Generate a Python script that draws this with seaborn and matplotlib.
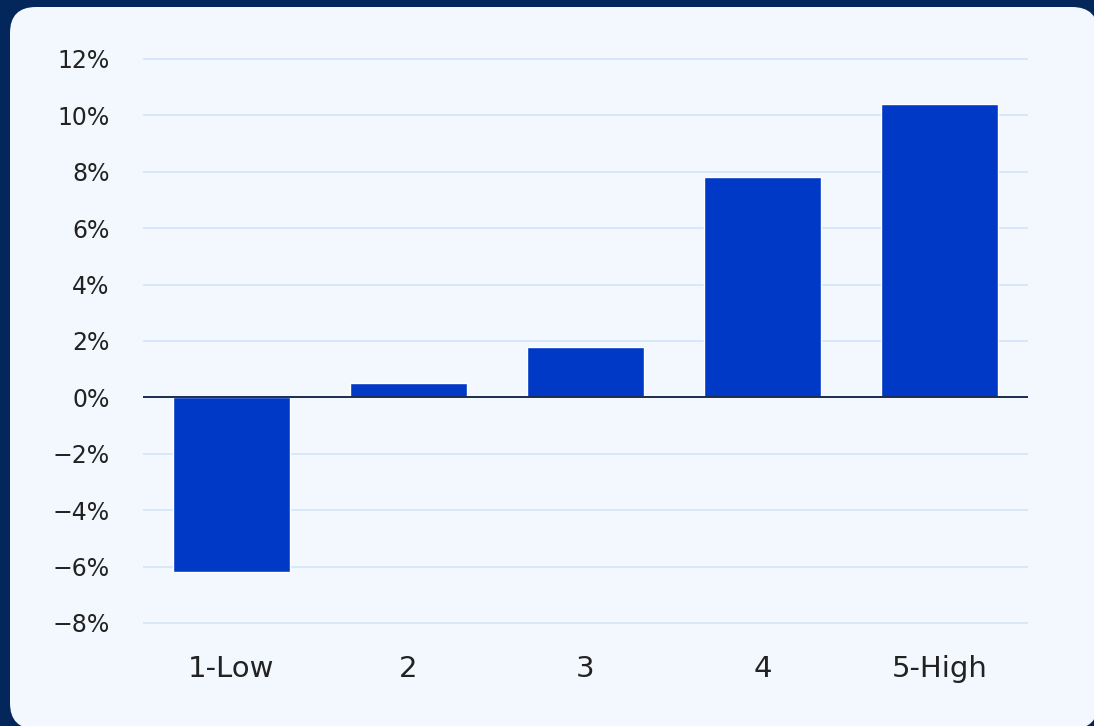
import seaborn as sns
import pandas as pd
import matplotlib.pyplot as plt
from matplotlib.patches import FancyBboxPatch
from matplotlib.ticker import FuncFormatter

quintiles = ["1-Low", "2", "3", "4", "5-High"]
returns = [-6.2, 0.5, 1.8, 7.8, 10.4]
yticks = [-8, -6, -4, -2, 0, 2, 4, 6, 8, 10, 12]

navy = "#03275a"
panel = "#f3f8fe"
bar_blue = "#0039c6"
grid_blue = "#d3e5fb"

sns.set_style("white")
plt.rcParams["font.family"] = ["DejaVu Sans"]

fig = plt.figure(figsize=(10.94, 7.26), dpi=100, facecolor=navy)
# rounded light panel (in inches)
fig.patches.append(FancyBboxPatch((0.10, -0.03), 10.88, 7.22,
                                  boxstyle="round,pad=0,rounding_size=0.26",
                                  transform=fig.dpi_scale_trans, facecolor=panel,
                                  edgecolor="none", zorder=-5))

ax = fig.add_axes([143 / 1094, 1 - 637.1 / 726, 885 / 1094, 592.2 / 726])
ax.set_zorder(2)
ax.set_facecolor("none")

df = pd.DataFrame({"quintile": quintiles, "ret": returns})
sns.barplot(data=df, x="quintile", y="ret", color=bar_blue, saturation=1,
            width=0.66, ax=ax, zorder=3)

ax.set_xlim(-0.5, 4.5)
ax.set_ylim(-8.5, 12.5)
ax.set_yticks(yticks)
ax.yaxis.set_major_formatter(FuncFormatter(
    lambda v, p: f"{v:.0f}%".replace("-", "\u2212")))
ax.yaxis.grid(True, color=grid_blue, linewidth=1.2)
ax.set_axisbelow(True)
ax.axhline(0, color="#1b2d4f", linewidth=1.4, zorder=4)
for s in ax.spines.values():
    s.set_visible(False)
ax.tick_params(axis="y", length=0, pad=24, labelsize=17, labelcolor="#222222")
ax.tick_params(axis="x", length=0, pad=13, labelsize=21, labelcolor="#222222")
ax.set_xlabel("")
ax.set_ylabel("")

fig.savefig("out.png", dpi=100, facecolor=navy)
